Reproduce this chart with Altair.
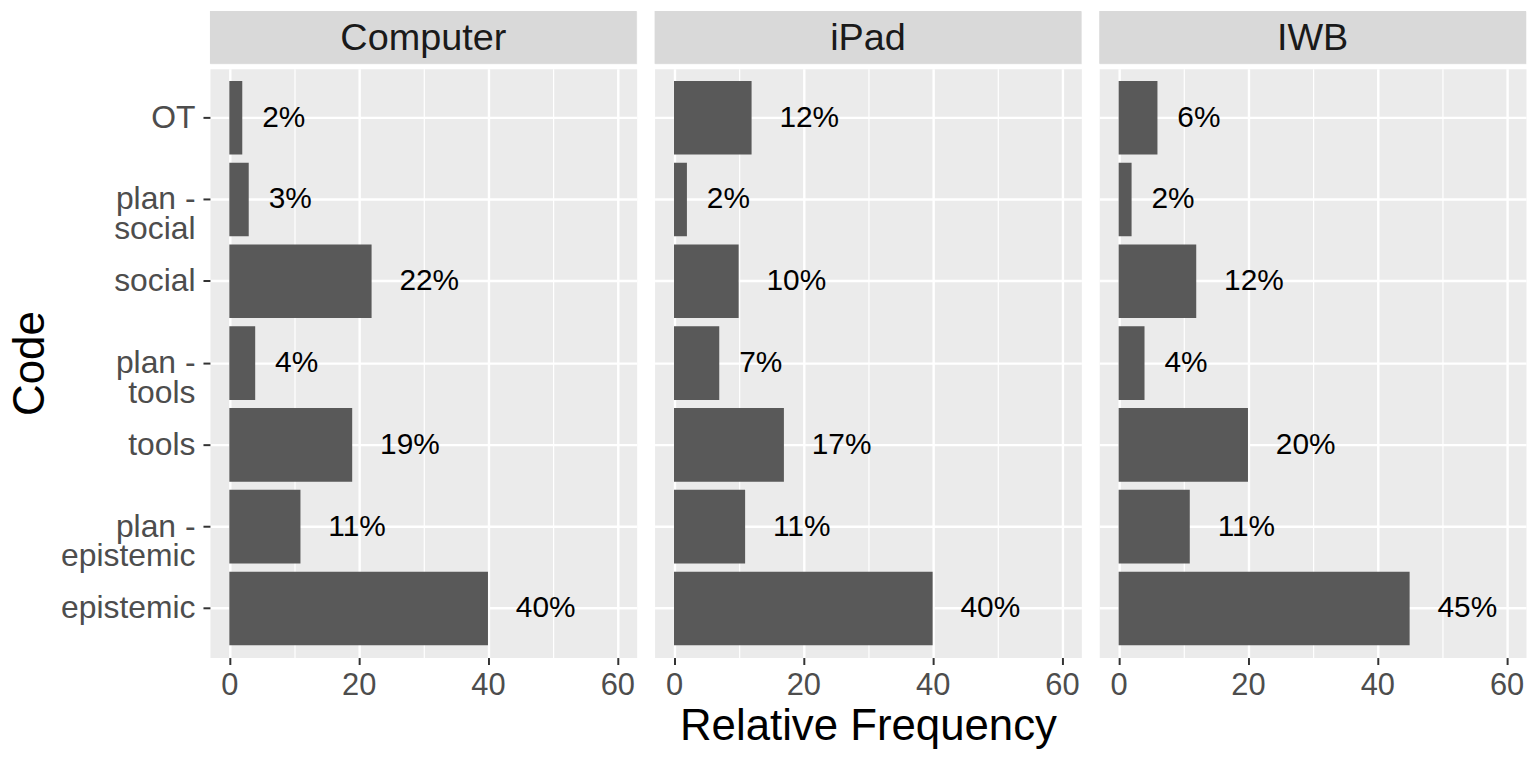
import altair as alt
import pandas as pd

devices = ["Computer", "iPad", "IWB"]
codes = ["OT", "plan - social", "social", "plan - tools", "tools", "plan - epistemic", "epistemic"]
computer_vals = [2, 3, 22, 4, 19, 11, 40]
ipad_vals = [12, 2, 10, 7, 17, 11, 40]
iwb_vals = [6, 2, 12, 4, 20, 11, 45]
x_ticks = [0, 10, 20, 30, 40, 50, 60]

rows = []
for dev, vals in zip(devices, [computer_vals, ipad_vals, iwb_vals]):
    for c, v in zip(codes, vals):
        rows.append({"device": dev, "code": c, "value": v, "label": f"{v}%"})
df = pd.DataFrame(rows)

FONT = "Liberation Sans"
W, H, STRIP = 429, 592, 53

xscale = alt.Scale(domain=[-3, 63], nice=False, zero=False)
yscale = alt.Scale(paddingInner=0.1, paddingOuter=0.15)

major = "datum.value % 20 == 0"


def x_axis(title):
    kw = dict(
        values=x_ticks,
        labelExpr=f"{major} ? datum.label : ''",
        labelFontSize=31, labelColor="#4D4D4D", labelFont=FONT, labelPadding=6,
        tickColor="#333333", tickWidth=2, tickSize=7,
        tickOpacity={"condition": {"test": major, "value": 1}, "value": 0},
        grid=True, gridColor="white",
        gridWidth={"condition": {"test": major, "value": 2.4}, "value": 1.2},
        domain=False,
    )
    if title:
        return alt.Axis(title=title, titleFontSize=44, titleFontWeight="normal",
                        titleColor="black", titleFont=FONT, titlePadding=4, **kw)
    return alt.Axis(title=None, **kw)


def y_axis(first):
    kw = dict(grid=True, gridColor="white", gridWidth=2.4, bandPosition=0.5, domain=False)
    if first:
        return alt.Axis(
            title="Code", titleFontSize=44, titleFontWeight="normal", titleColor="black",
            titleFont=FONT, titlePadding=8,
            labelFontSize=32, labelColor="#4D4D4D", labelFont=FONT, labelPadding=8,
            labelLineHeight=30,
            labelExpr="split(replace(datum.label, ' - ', ' -|'), '|')",
            tickColor="#333333", tickWidth=2, tickSize=7, **kw)
    return alt.Axis(title=None, labels=False, ticks=False, **kw)


panels = []
for i, dev in enumerate(devices):
    base = alt.Chart(df).transform_filter(alt.datum.device == dev)
    x_enc = alt.X("value:Q", scale=xscale, axis=x_axis("Relative Frequency" if i == 1 else ""))
    y_enc = alt.Y("code:N", sort=codes, scale=yscale, axis=y_axis(i == 0))
    bars = base.mark_bar(color="#595959").encode(x=x_enc, y=y_enc)
    t2 = base.transform_filter("length(datum.label) == 2").mark_text(
        align="left", baseline="middle", dx=20, fontSize=30, font=FONT, color="black"
    ).encode(x=alt.X("value:Q", scale=xscale), y=alt.Y("code:N", sort=codes, scale=yscale), text="label:N")
    t3 = base.transform_filter("length(datum.label) == 3").mark_text(
        align="left", baseline="middle", dx=28, fontSize=30, font=FONT, color="black"
    ).encode(x=alt.X("value:Q", scale=xscale), y=alt.Y("code:N", sort=codes, scale=yscale), text="label:N")
    main = alt.layer(bars, t2, t3).properties(width=W, height=H)

    sdf = pd.DataFrame({"device": [dev]})
    srect = alt.Chart(sdf).mark_rect(color="#D9D9D9").encode(
        x=alt.value(0), x2=alt.value(W), y=alt.value(0), y2=alt.value(STRIP))
    stext = alt.Chart(sdf).mark_text(fontSize=38, font=FONT, color="#1A1A1A", baseline="middle").encode(
        x=alt.value(W / 2), y=alt.value(STRIP / 2 + 2), text="device:N")
    strip = alt.layer(srect, stext).properties(width=W, height=STRIP)

    panels.append(alt.vconcat(strip, main, spacing=3))

chart = alt.hconcat(*panels, spacing=16).properties(
    padding={"left": 0, "top": 0, "right": 0, "bottom": 0},
    background="white",
).configure_view(fill="#EBEBEB", stroke="transparent")

chart.save("out.html", embed_options={"renderer": "svg", "actions": False})
